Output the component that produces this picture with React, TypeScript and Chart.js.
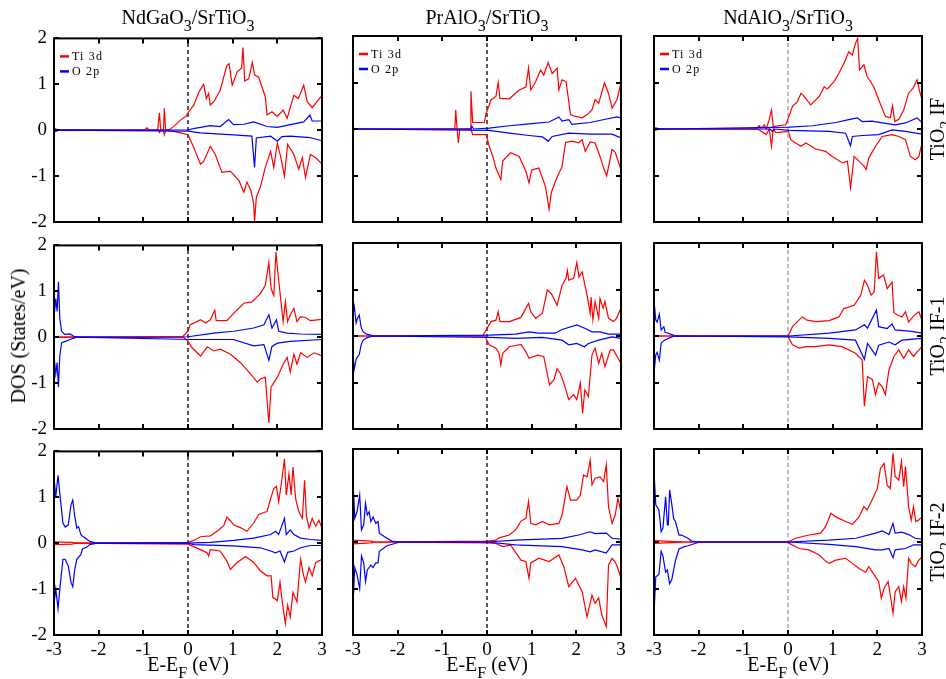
import React, { useEffect, useRef } from "react";
import { Chart, registerables } from "chart.js";

Chart.register(...registerables);

type Pt = [number, number];

// ---------- axis / label data ----------
const X_TICKS = [-3, -2, -1, 0, 1, 2, 3];
const Y_TICKS = [-2, -1, 0, 1, 2];
const COLUMN_TITLES = ["NdGaO_3/SrTiO_3", "PrAlO_3/SrTiO_3", "NdAlO_3/SrTiO_3"];
const ROW_LABELS = ["TiO_2 IF", "TiO_2 IF-1", "TiO_2 IF-2"];
const SERIES_NAMES = ["Ti 3d", "O 2p"];
const SERIES_COLORS = ["#ff0000", "#0000ff"];
const X_TITLE = "E-E_F (eV)";
const Y_TITLE = "DOS (States/eV)";

// ---------- NdGaO3 / TiO2 IF ----------
const NGO_IF_TI_UP: Pt[] = [[-3,0],[-0.98,0],[-0.92,0.05],[-0.86,0],[-0.68,0],[-0.64,0.38],[-0.61,0],[-0.55,0],[-0.53,0.48],[-0.5,0],[-0.4,0.02],[-0.3,0.1],[-0.17,0.22],[-0.05,0.3],[0,0.38],[0.13,0.55],[0.25,0.84],[0.35,1.0],[0.41,0.69],[0.46,0.8],[0.5,0.55],[0.58,0.62],[0.72,0.87],[0.87,1.41],[0.92,1.45],[0.99,0.98],[1.1,1.27],[1.2,1.35],[1.23,1.8],[1.27,1.07],[1.36,1.12],[1.44,1.48],[1.49,1.2],[1.58,1.16],[1.73,0.73],[1.77,0.33],[1.88,0.4],[2.0,0.3],[2.13,0.44],[2.22,0.26],[2.37,0.76],[2.47,0.69],[2.59,0.98],[2.67,0.62],[2.78,0.49],[3.0,0.76]];
const NGO_IF_TI_DN: Pt[] = [[-3,0],[-0.66,0],[-0.64,-0.05],[-0.6,0],[-0.55,0],[-0.53,-0.1],[-0.5,0],[-0.3,-0.03],[-0.17,-0.06],[0,-0.1],[0.13,-0.38],[0.28,-0.74],[0.35,-0.68],[0.5,-0.35],[0.61,-0.53],[0.76,-0.92],[0.95,-0.89],[1.14,-1.1],[1.25,-1.35],[1.32,-1.13],[1.41,-1.32],[1.47,-1.6],[1.49,-2.0],[1.53,-1.46],[1.62,-1.24],[1.73,-0.81],[1.85,-0.46],[1.92,-0.81],[2.0,-0.28],[2.07,-0.56],[2.16,-1.0],[2.23,-0.31],[2.37,-0.53],[2.48,-0.85],[2.56,-0.6],[2.63,-1.03],[2.74,-0.53],[2.86,-0.6],[3.0,-0.74]];
const NGO_IF_O_UP: Pt[] = [[-3,0.04],[-2.95,0.02],[-2.9,0],[0,0.01],[0.15,0.04],[0.28,0.06],[0.5,0.1],[0.72,0.08],[0.91,0.23],[1.02,0.12],[1.25,0.13],[1.47,0.18],[1.77,0.08],[2.0,0.06],[2.29,0.12],[2.59,0.18],[2.73,0.33],[2.78,0.2],[3.0,0.2]];
const NGO_IF_O_DN: Pt[] = [[-3,-0.04],[-2.95,-0.02],[-2.9,0],[0,-0.02],[0.28,-0.06],[1.02,-0.1],[1.43,-0.13],[1.49,-0.81],[1.53,-0.17],[1.85,-0.13],[2.0,-0.24],[2.1,-0.14],[2.29,-0.13],[2.73,-0.16],[3.0,-0.23]];

// ---------- PrAlO3 / TiO2 IF ----------
const PAO_IF_TI_UP: Pt[] = [[-3,0],[-0.72,0],[-0.7,0.41],[-0.67,0],[-0.38,0],[-0.36,0.81],[-0.32,0.14],[-0.06,0.14],[-0.02,0.34],[0.01,0.41],[0.09,0.63],[0.2,0.7],[0.25,1.0],[0.29,0.66],[0.5,0.65],[0.72,0.84],[0.87,0.9],[0.93,1.31],[0.98,0.84],[1.09,1.02],[1.2,1.27],[1.27,1.16],[1.37,1.43],[1.46,1.19],[1.57,1.31],[1.61,0.84],[1.68,1.06],[1.77,1.02],[1.87,0.31],[1.98,0.27],[2.13,0.24],[2.24,0.31],[2.35,0.41],[2.42,0.63],[2.5,0.55],[2.63,0.99],[2.72,0.77],[2.8,0.45],[2.91,0.63],[3.0,0.99]];
const PAO_IF_TI_DN: Pt[] = [[-3,0],[-0.67,0],[-0.64,-0.3],[-0.61,0],[-0.36,0],[-0.32,-0.12],[-0.02,-0.12],[0.05,-0.37],[0.13,-0.59],[0.2,-0.84],[0.31,-1.09],[0.35,-0.69],[0.53,-0.51],[0.72,-0.59],[0.87,-0.91],[0.94,-1.16],[1.0,-0.88],[1.16,-0.84],[1.31,-1.24],[1.39,-1.73],[1.44,-1.37],[1.53,-1.13],[1.61,-0.95],[1.68,-0.81],[1.76,-0.29],[1.9,-0.26],[2.05,-0.3],[2.13,-0.23],[2.2,-0.48],[2.31,-0.28],[2.42,-0.3],[2.53,-0.59],[2.61,-0.84],[2.68,-1.01],[2.8,-0.44],[2.87,-0.5],[3.0,-0.87]];
const PAO_IF_O_UP: Pt[] = [[-3,0.02],[-2.9,0],[-0.36,0],[-0.34,0.06],[-0.3,0],[0.05,0.02],[0.5,0.07],[0.94,0.11],[1.39,0.15],[1.61,0.26],[1.68,0.17],[1.83,0.2],[1.9,0.1],[2.31,0.14],[2.65,0.21],[2.91,0.26],[3.0,0.24]];
const PAO_IF_O_DN: Pt[] = [[-3,-0.02],[-2.9,0],[0.05,-0.03],[0.5,-0.09],[0.94,-0.14],[1.24,-0.17],[1.37,-0.26],[1.46,-0.16],[1.83,-0.09],[2.31,-0.11],[2.8,-0.11],[3.0,-0.19]];

// ---------- NdAlO3 / TiO2 IF ----------
const NAO_IF_TI_UP: Pt[] = [[-3,0],[-0.72,0],[-0.64,0.07],[-0.6,0.02],[-0.53,0.09],[-0.49,0],[-0.42,0.2],[-0.37,0.41],[-0.33,0.05],[-0.23,0.07],[-0.05,0.09],[0.01,0.24],[0.1,0.49],[0.21,0.59],[0.29,0.77],[0.36,0.7],[0.51,0.52],[0.7,0.7],[0.81,0.91],[0.88,0.86],[1.03,1.02],[1.14,1.2],[1.25,1.41],[1.36,1.66],[1.44,1.59],[1.51,1.84],[1.56,1.95],[1.6,1.27],[1.7,1.38],[1.77,1.13],[1.92,0.91],[2.03,0.63],[2.18,0.27],[2.29,0.24],[2.34,0.5],[2.39,0.16],[2.48,0.21],[2.59,0.41],[2.7,0.77],[2.8,0.88],[2.89,1.06],[2.94,0.84],[3.0,0.63]];
const NAO_IF_TI_DN: Pt[] = [[-3,0],[-0.68,0],[-0.6,-0.05],[-0.49,-0.12],[-0.42,0],[-0.37,-0.37],[-0.33,0],[-0.27,-0.08],[0.01,-0.05],[0.06,-0.23],[0.17,-0.3],[0.29,-0.37],[0.4,-0.3],[0.62,-0.43],[0.84,-0.48],[0.99,-0.59],[1.22,-0.73],[1.33,-0.69],[1.4,-1.26],[1.48,-0.59],[1.59,-0.69],[1.7,-0.8],[1.75,-0.87],[1.81,-0.62],[1.96,-0.37],[2.11,-0.16],[2.33,-0.12],[2.48,-0.16],[2.63,-0.23],[2.74,-0.59],[2.85,-0.66],[2.93,-0.59],[3.0,-0.3]];
const NAO_IF_O_UP: Pt[] = [[-3,0.03],[-2.9,0.01],[-2.7,0],[0.03,0.04],[0.55,0.07],[1.07,0.14],[1.36,0.2],[1.55,0.24],[1.66,0.16],[1.88,0.17],[2.11,0.13],[2.4,0.09],[2.63,0.13],[2.89,0.24],[3.0,0.14]];
const NAO_IF_O_DN: Pt[] = [[-3,-0.03],[-2.9,-0.01],[-2.7,0],[-0.4,0],[-0.35,-0.05],[-0.3,0],[0.03,-0.03],[0.92,-0.05],[1.29,-0.09],[1.4,-0.36],[1.44,-0.16],[1.66,-0.14],[2.03,-0.12],[2.33,-0.02],[2.63,-0.05],[3.0,-0.11]];

// ---------- NdGaO3 / TiO2 IF-1 ----------
const NGO_IF1_TI_UP: Pt[] = [[-3,0],[-0.13,0],[0,0.13],[0.05,0.27],[0.2,0.34],[0.28,0.38],[0.39,0.31],[0.5,0.38],[0.6,0.59],[0.63,0.36],[0.87,0.36],[1.02,0.52],[1.25,0.74],[1.43,0.77],[1.62,0.95],[1.73,1.13],[1.81,1.63],[1.86,1.06],[1.92,0.91],[1.97,1.86],[2.01,1.43],[2.07,0.88],[2.13,0.34],[2.18,0.77],[2.23,0.34],[2.29,0.49],[2.37,0.63],[2.44,0.34],[2.52,0.45],[2.63,0.43],[2.74,0.36],[3.0,0.39]];
const NGO_IF1_TI_DN: Pt[] = [[-3,0],[-0.1,0],[0,-0.09],[0.09,-0.23],[0.28,-0.41],[0.43,-0.21],[0.58,-0.3],[0.72,-0.26],[0.95,-0.37],[1.17,-0.55],[1.4,-0.8],[1.55,-0.98],[1.62,-0.91],[1.73,-0.87],[1.81,-1.87],[1.86,-1.09],[2.0,-0.87],[2.13,-0.59],[2.22,-0.44],[2.29,-0.76],[2.37,-0.37],[2.44,-0.59],[2.52,-0.34],[2.67,-0.44],[2.82,-0.34],[3.0,-0.41]];
const NGO_IF1_O_UP: Pt[] = [[-3,0.41],[-2.96,0.84],[-2.93,0.56],[-2.9,1.21],[-2.87,0.41],[-2.83,0.13],[-2.76,0.06],[-2.64,0.07],[-2.56,0.02],[-2.49,0],[0,0.01],[0.58,0.09],[1.02,0.13],[1.47,0.2],[1.7,0.27],[1.81,0.49],[1.88,0.2],[1.98,0.38],[2.03,0.13],[2.22,0.09],[2.52,0.07],[3.0,0.06]];
const NGO_IF1_O_DN: Pt[] = [[-3,-0.4],[-2.96,-0.8],[-2.93,-0.55],[-2.9,-1.09],[-2.87,-0.4],[-2.83,-0.12],[-2.72,-0.08],[-2.64,-0.05],[-2.49,0],[0.1,-0.05],[1.02,-0.05],[1.47,-0.19],[1.7,-0.16],[1.81,-0.5],[1.88,-0.2],[2.0,-0.13],[2.29,-0.09],[3.0,-0.05]];

// ---------- PrAlO3 / TiO2 IF-1 ----------
const PAO_IF1_TI_UP: Pt[] = [[-3,0],[-0.1,0],[-0.02,0.13],[0.09,0.31],[0.2,0.34],[0.25,0.52],[0.29,0.31],[0.5,0.31],[0.76,0.4],[0.93,0.7],[0.98,0.52],[1.09,0.38],[1.24,0.49],[1.35,0.99],[1.44,0.91],[1.57,0.66],[1.68,1.09],[1.77,1.24],[1.8,1.41],[1.83,1.2],[1.94,1.24],[2.01,1.58],[2.06,1.27],[2.13,1.38],[2.24,0.88],[2.31,0.49],[2.33,0.84],[2.37,0.35],[2.42,0.74],[2.5,0.38],[2.53,0.81],[2.6,0.6],[2.64,0.74],[2.72,0.38],[2.83,0.31],[2.9,0.38],[3.0,0.61]];
const PAO_IF1_TI_DN: Pt[] = [[-3,0],[-0.05,0],[0.05,-0.19],[0.2,-0.26],[0.27,-0.37],[0.31,-0.62],[0.35,-0.37],[0.5,-0.23],[0.76,-0.18],[0.87,-0.34],[0.94,-0.48],[1.13,-0.41],[1.27,-0.44],[1.4,-1.05],[1.5,-0.94],[1.57,-0.7],[1.64,-0.8],[1.72,-1.01],[1.83,-1.37],[1.94,-1.26],[2.01,-1.37],[2.09,-1.01],[2.14,-1.66],[2.19,-1.16],[2.27,-1.3],[2.35,-0.41],[2.42,-0.26],[2.5,-0.59],[2.57,-0.37],[2.64,-0.66],[2.76,-0.3],[2.83,-0.3],[3.0,-0.59]];
const PAO_IF1_O_UP: Pt[] = [[-3,0.45],[-2.97,0.63],[-2.93,0.28],[-2.9,0.38],[-2.86,0.45],[-2.82,0.2],[-2.78,0.1],[-2.7,0.04],[-2.6,0.02],[-2.55,0],[0.05,0.02],[0.64,0.04],[0.94,0.09],[1.16,0.06],[1.53,0.06],[1.68,0.14],[2.01,0.24],[2.2,0.16],[2.35,0.09],[2.53,0.09],[2.72,0.04],[3.0,0.04]];
const PAO_IF1_O_DN: Pt[] = [[-3,-0.45],[-2.97,-0.7],[-2.93,-0.5],[-2.9,-0.45],[-2.86,-0.4],[-2.82,-0.2],[-2.78,-0.1],[-2.7,-0.04],[-2.55,0],[0.05,-0.03],[0.64,-0.05],[1.24,-0.03],[1.68,-0.09],[1.83,-0.19],[2.01,-0.16],[2.18,-0.23],[2.27,-0.16],[2.5,-0.09],[2.8,-0.02],[3.0,-0.05]];

// ---------- NdAlO3 / TiO2 IF-1 ----------
const NAO_IF1_TI_UP: Pt[] = [[-3,0],[0,0],[0.1,0.2],[0.21,0.31],[0.32,0.41],[0.43,0.34],[0.62,0.31],[0.92,0.33],[1.14,0.41],[1.25,0.59],[1.48,0.66],[1.63,0.88],[1.71,1.2],[1.78,1.09],[1.86,0.88],[1.93,0.95],[1.98,1.81],[2.03,1.24],[2.14,1.31],[2.22,1.02],[2.33,1.16],[2.37,0.5],[2.45,0.45],[2.55,0.41],[2.63,0.52],[2.7,0.3],[2.83,0.45],[2.93,0.52],[3.0,0.34]];
const NAO_IF1_TI_DN: Pt[] = [[-3,0],[0,0],[0.02,-0.05],[0.1,-0.19],[0.25,-0.26],[0.4,-0.23],[0.62,-0.23],[0.92,-0.19],[1.21,-0.23],[1.51,-0.37],[1.66,-0.51],[1.71,-1.51],[1.78,-0.87],[1.89,-0.94],[1.96,-1.26],[2.03,-1.01],[2.11,-1.09],[2.18,-1.26],[2.26,-0.73],[2.37,-0.44],[2.48,-0.3],[2.59,-0.48],[2.7,-0.3],[2.81,-0.44],[2.89,-0.34],[3.0,-0.23]];
const NAO_IF1_O_UP: Pt[] = [[-3,0.77],[-2.96,0.34],[-2.93,0.3],[-2.88,0.47],[-2.84,0.13],[-2.78,0.2],[-2.75,0.08],[-2.68,0.06],[-2.57,0.02],[-2.5,0],[0.02,0],[0.92,0.06],[1.51,0.13],[1.71,0.24],[1.78,0.17],[1.98,0.56],[2.03,0.2],[2.22,0.16],[2.33,0.26],[2.4,0.13],[2.77,0.1],[3.0,0.06]];
const NAO_IF1_O_DN: Pt[] = [[-3,-0.8],[-2.96,-0.4],[-2.93,-0.35],[-2.88,-0.52],[-2.84,-0.15],[-2.78,-0.1],[-2.68,-0.05],[-2.57,-0.01],[-2.5,0],[0.02,-0.02],[0.92,-0.05],[1.51,-0.09],[1.71,-0.5],[1.78,-0.16],[1.96,-0.41],[2.03,-0.2],[2.26,-0.13],[2.4,-0.19],[2.55,-0.09],[3.0,-0.05]];

// ---------- NdGaO3 / TiO2 IF-2 ----------
const NGO_IF2_TI_UP: Pt[] = [[-3,0.03],[-2.6,0.02],[-2.5,0],[0,0.02],[0.13,0.06],[0.28,0.14],[0.5,0.16],[0.65,0.26],[0.8,0.38],[0.87,0.57],[0.95,0.49],[1.02,0.4],[1.17,0.34],[1.32,0.26],[1.47,0.44],[1.58,0.62],[1.7,0.67],[1.77,0.69],[1.85,0.97],[1.92,1.19],[1.98,1.24],[2.03,0.9],[2.09,1.3],[2.16,1.84],[2.2,1.05],[2.26,1.51],[2.31,1.05],[2.35,1.66],[2.41,0.97],[2.48,0.69],[2.56,0.54],[2.61,1.37],[2.65,0.6],[2.71,0.33],[2.78,0.54],[2.86,0.37],[2.93,0.5],[3.0,0.33]];
const NGO_IF2_TI_DN: Pt[] = [[-3,-0.03],[-2.6,-0.02],[-2.5,0],[0,-0.02],[0.28,-0.14],[0.43,-0.21],[0.46,-0.28],[0.5,-0.14],[0.72,-0.17],[0.87,-0.39],[0.95,-0.57],[1.1,-0.42],[1.29,-0.29],[1.47,-0.42],[1.62,-0.6],[1.77,-0.71],[1.86,-0.71],[1.9,-1.18],[2.0,-1.25],[2.06,-0.85],[2.11,-1.28],[2.18,-1.75],[2.23,-1.35],[2.29,-1.61],[2.35,-1.07],[2.44,-1.28],[2.52,-0.35],[2.59,-0.71],[2.63,-0.85],[2.71,-0.53],[2.78,-0.71],[2.86,-0.42],[3.0,-0.35]];
const NGO_IF2_O_UP: Pt[] = [[-3,1.44],[-2.96,1.01],[-2.91,1.48],[-2.87,1.08],[-2.8,0.44],[-2.75,0.35],[-2.68,0.4],[-2.62,0.83],[-2.58,0.94],[-2.54,0.62],[-2.49,0.33],[-2.45,0.36],[-2.4,0.19],[-2.36,0.15],[-2.27,0.09],[-2.2,0.04],[-2.04,0],[0,0],[0.5,0.02],[1.02,0.06],[1.47,0.11],[1.85,0.19],[1.96,0.26],[2.03,0.19],[2.16,0.54],[2.2,0.19],[2.29,0.29],[2.37,0.19],[2.52,0.11],[2.74,0.08],[3.0,0.06]];
const NGO_IF2_O_DN: Pt[] = [[-3,-1.33],[-2.96,-1.0],[-2.91,-1.43],[-2.87,-1.0],[-2.8,-0.35],[-2.75,-0.35],[-2.68,-0.5],[-2.62,-0.85],[-2.58,-0.95],[-2.54,-0.6],[-2.49,-0.35],[-2.4,-0.25],[-2.36,-0.12],[-2.27,-0.09],[-2.2,-0.03],[-2.04,0],[0,0],[0.13,-0.03],[1.02,-0.06],[1.62,-0.1],[1.85,-0.17],[1.96,-0.21],[2.06,-0.17],[2.16,-0.41],[2.23,-0.2],[2.37,-0.17],[2.52,-0.1],[2.74,-0.05],[3.0,-0.05]];

// ---------- PrAlO3 / TiO2 IF-2 ----------
const PAO_IF2_TI_UP: Pt[] = [[-3,0.04],[-2.6,0.02],[-2.5,0],[0,0.02],[0.2,0.04],[0.27,0.09],[0.5,0.15],[0.64,0.26],[0.76,0.45],[0.87,0.51],[0.93,0.87],[0.98,0.4],[1.09,0.37],[1.24,0.44],[1.39,0.37],[1.61,0.4],[1.68,0.58],[1.79,1.19],[1.87,0.9],[2.01,0.9],[2.09,1.01],[2.16,1.44],[2.24,1.4],[2.31,1.76],[2.35,1.23],[2.42,1.37],[2.53,1.4],[2.61,1.3],[2.67,1.66],[2.72,0.76],[2.8,0.4],[2.87,0.58],[2.93,0.94],[3.0,0.65]];
const PAO_IF2_TI_DN: Pt[] = [[-3,-0.04],[-2.6,-0.02],[-2.5,0],[0,-0.02],[0.2,-0.03],[0.35,-0.1],[0.53,-0.07],[0.76,-0.39],[0.87,-0.42],[0.94,-0.78],[0.98,-0.45],[1.16,-0.35],[1.39,-0.42],[1.61,-0.28],[1.72,-0.53],[1.83,-0.96],[1.98,-0.78],[2.13,-1.07],[2.24,-1.61],[2.35,-1.14],[2.42,-1.32],[2.5,-1.2],[2.57,-1.57],[2.67,-1.82],[2.72,-0.5],[2.8,-0.35],[2.87,-0.43],[2.93,-0.57],[3.0,-0.78]];
const PAO_IF2_O_UP: Pt[] = [[-3,1.33],[-2.96,0.51],[-2.91,0.65],[-2.85,1.01],[-2.81,0.26],[-2.76,0.37],[-2.72,0.83],[-2.68,0.58],[-2.64,0.65],[-2.6,0.44],[-2.55,0.54],[-2.49,0.4],[-2.44,0.44],[-2.41,0.19],[-2.35,0.15],[-2.24,0.08],[-2.13,0.02],[-1.95,0],[0,0],[0.64,0.04],[1.24,0.06],[1.68,0.08],[2.05,0.15],[2.31,0.22],[2.42,0.18],[2.67,0.19],[2.8,0.08],[3.0,0.06]];
const PAO_IF2_O_DN: Pt[] = [[-3,-1.35],[-2.96,-0.55],[-2.91,-0.7],[-2.85,-1.0],[-2.81,-0.3],[-2.76,-0.45],[-2.72,-0.85],[-2.68,-0.6],[-2.6,-0.5],[-2.55,-0.55],[-2.49,-0.45],[-2.44,-0.45],[-2.41,-0.2],[-2.24,-0.08],[-1.95,0],[0,0],[0.64,-0.06],[1.68,-0.1],[2.13,-0.17],[2.31,-0.21],[2.42,-0.17],[2.67,-0.24],[2.8,-0.06],[3.0,-0.06]];

// ---------- NdAlO3 / TiO2 IF-2 ----------
const NAO_IF2_TI_UP: Pt[] = [[-3,0.03],[-2.5,0.01],[-2.3,0],[0,0],[0.17,0.08],[0.47,0.15],[0.73,0.19],[0.84,0.33],[0.96,0.62],[1.07,0.54],[1.29,0.44],[1.44,0.38],[1.59,0.54],[1.7,0.76],[1.77,0.69],[1.88,0.9],[2.0,1.15],[2.07,1.58],[2.15,1.69],[2.22,1.22],[2.29,1.15],[2.35,1.91],[2.4,1.41],[2.48,1.33],[2.54,1.73],[2.59,1.19],[2.63,1.62],[2.7,0.76],[2.76,0.47],[2.81,0.76],[2.86,0.44],[2.92,0.47],[3.0,0.54]];
const NAO_IF2_TI_DN: Pt[] = [[-3,-0.03],[-2.5,-0.01],[-2.3,0],[0,0],[0.03,-0.03],[0.25,-0.14],[0.47,-0.17],[0.7,-0.28],[0.84,-0.41],[0.92,-0.46],[1.07,-0.39],[1.29,-0.35],[1.44,-0.46],[1.59,-0.57],[1.74,-0.65],[1.81,-0.53],[1.96,-0.75],[2.03,-0.85],[2.09,-1.21],[2.15,-1.0],[2.24,-0.85],[2.29,-1.14],[2.35,-1.53],[2.4,-1.07],[2.48,-0.96],[2.54,-1.28],[2.59,-0.96],[2.64,-1.21],[2.7,-0.35],[2.76,-0.46],[2.85,-0.53],[2.92,-0.4],[3.0,-0.32]];
const NAO_IF2_O_UP: Pt[] = [[-3,1.51],[-2.96,0.8],[-2.89,0.69],[-2.84,0.22],[-2.8,0.3],[-2.74,0.97],[-2.7,0.37],[-2.68,0.37],[-2.65,1.12],[-2.6,0.8],[-2.56,0.5],[-2.52,0.44],[-2.44,0.15],[-2.38,0.15],[-2.32,0.12],[-2.24,0.08],[-2.16,0.02],[-1.98,0],[0,0],[0.92,0.04],[1.52,0.08],[1.96,0.19],[2.11,0.24],[2.26,0.16],[2.35,0.4],[2.4,0.19],[2.55,0.21],[2.7,0.16],[2.85,0.08],[3.0,0.06]];
const NAO_IF2_O_DN: Pt[] = [[-3,-1.55],[-2.96,-0.75],[-2.89,-0.7],[-2.84,-0.2],[-2.8,-0.3],[-2.74,-0.65],[-2.7,-0.6],[-2.65,-0.9],[-2.6,-0.8],[-2.56,-0.6],[-2.52,-0.4],[-2.44,-0.15],[-2.32,-0.1],[-2.24,-0.08],[-1.98,0],[0,0],[0.92,-0.05],[1.52,-0.1],[1.96,-0.17],[2.11,-0.17],[2.26,-0.14],[2.35,-0.34],[2.4,-0.17],[2.63,-0.14],[2.81,-0.06],[3.0,-0.06]];

type Curves = { tiUp: Pt[]; tiDn: Pt[]; oUp: Pt[]; oDn: Pt[] };

const PANELS: Curves[][] = [
  [
    { tiUp: NGO_IF_TI_UP, tiDn: NGO_IF_TI_DN, oUp: NGO_IF_O_UP, oDn: NGO_IF_O_DN },
    { tiUp: PAO_IF_TI_UP, tiDn: PAO_IF_TI_DN, oUp: PAO_IF_O_UP, oDn: PAO_IF_O_DN },
    { tiUp: NAO_IF_TI_UP, tiDn: NAO_IF_TI_DN, oUp: NAO_IF_O_UP, oDn: NAO_IF_O_DN },
  ],
  [
    { tiUp: NGO_IF1_TI_UP, tiDn: NGO_IF1_TI_DN, oUp: NGO_IF1_O_UP, oDn: NGO_IF1_O_DN },
    { tiUp: PAO_IF1_TI_UP, tiDn: PAO_IF1_TI_DN, oUp: PAO_IF1_O_UP, oDn: PAO_IF1_O_DN },
    { tiUp: NAO_IF1_TI_UP, tiDn: NAO_IF1_TI_DN, oUp: NAO_IF1_O_UP, oDn: NAO_IF1_O_DN },
  ],
  [
    { tiUp: NGO_IF2_TI_UP, tiDn: NGO_IF2_TI_DN, oUp: NGO_IF2_O_UP, oDn: NGO_IF2_O_DN },
    { tiUp: PAO_IF2_TI_UP, tiDn: PAO_IF2_TI_DN, oUp: PAO_IF2_O_UP, oDn: PAO_IF2_O_DN },
    { tiUp: NAO_IF2_TI_UP, tiDn: NAO_IF2_TI_DN, oUp: NAO_IF2_O_UP, oDn: NAO_IF2_O_DN },
  ],
];

// ---------- layout ----------
const COL_LEFT = [54, 353, 654];
const ROW_TOP = [36, 243, 449];
const PLOT_W = 268;
const PLOT_H = 186;
const PAD_L = 50;
const PAD_R = 14;
const PAD_T = 16;
const PAD_B = 32;
const FONT = '"Liberation Serif", "Times New Roman", Times, serif';

function withSub(s: string, subSize: number, subDrop: number) {
  const parts = s.split(/_(.)/);
  return parts.map((p, i) =>
    i % 2 === 1 ? (
      <span key={i} style={{ fontSize: subSize, verticalAlign: -subDrop, lineHeight: 0 }}>{p}</span>
    ) : (
      <span key={i}>{p}</span>
    )
  );
}

const framePlugin = {
  id: "frameTicks",
  afterDatasetsDraw(chart: any) {
    const { ctx, chartArea: a, scales } = chart;
    ctx.save();
    ctx.strokeStyle = "#000";
    ctx.lineWidth = 2;
    const L = 5;
    ctx.beginPath();
    for (const v of X_TICKS) {
      const px = Math.round(scales.x.getPixelForValue(v));
      ctx.moveTo(px, a.bottom);
      ctx.lineTo(px, a.bottom - L);
      ctx.moveTo(px, a.top);
      ctx.lineTo(px, a.top + L);
    }
    for (const v of Y_TICKS) {
      const py = Math.round(scales.y.getPixelForValue(v));
      ctx.moveTo(a.left, py);
      ctx.lineTo(a.left + L, py);
      ctx.moveTo(a.right, py);
      ctx.lineTo(a.right - L, py);
    }
    ctx.stroke();
    ctx.strokeRect(a.left, a.top, a.right - a.left, a.bottom - a.top);
    ctx.restore();
  },
};

const insetLegendPlugin = {
  id: "insetLegend",
  afterDraw(chart: any) {
    const { ctx, chartArea: a } = chart;
    ctx.save();
    ctx.font = `12px ${FONT}`;
    try { (ctx as any).letterSpacing = "1.2px"; } catch (e) { /* ignore */ }
    ctx.textBaseline = "middle";
    ctx.textAlign = "left";
    SERIES_NAMES.forEach((name, i) => {
      const y = a.top + 18 + i * 15;
      ctx.strokeStyle = SERIES_COLORS[i];
      ctx.lineWidth = 2.5;
      ctx.beginPath();
      ctx.moveTo(a.left + 6, y);
      ctx.lineTo(a.left + 15, y);
      ctx.stroke();
      ctx.fillStyle = "#000";
      ctx.fillText(name, a.left + 18, y + 0.5);
    });
    ctx.restore();
  },
};

function Panel({ row, col }: { row: number; col: number }) {
  const ref = useRef<HTMLCanvasElement>(null);
  useEffect(() => {
    const c = PANELS[row][col];
    const toXY = (a: Pt[]) => a.map(([x, y]) => ({ x, y }));
    const line = (d: Pt[], color: string) => ({
      data: toXY(d),
      borderColor: color,
      backgroundColor: color,
      borderWidth: 1.2,
      pointRadius: 0,
      tension: 0,
      fill: false,
    });
    const tickFont = { family: FONT, size: 19 };
    const chart = new Chart(ref.current as HTMLCanvasElement, {
      type: "line",
      data: {
        datasets: [
          { label: SERIES_NAMES[1], ...line(c.oUp, SERIES_COLORS[1]) },
          { label: SERIES_NAMES[1] + " (down)", ...line(c.oDn, SERIES_COLORS[1]) },
          { label: SERIES_NAMES[0], ...line(c.tiUp, SERIES_COLORS[0]) },
          { label: SERIES_NAMES[0] + " (down)", ...line(c.tiDn, SERIES_COLORS[0]) },
          {
            label: "E_F",
            data: [{ x: 0, y: -2 }, { x: 0, y: 2 }],
            borderColor: col === 2 ? "#9a9a9a" : "#000000",
            borderWidth: 1.3,
            borderDash: [4, 3],
            pointRadius: 0,
          },
        ] as any,
      },
      options: {
        animation: false,
        responsive: false,
        maintainAspectRatio: false,
        devicePixelRatio: 1,
        events: [],
        layout: { padding: { left: 0, top: PAD_T, right: PAD_R, bottom: 0 } },
        plugins: { legend: { display: false }, tooltip: { enabled: false }, title: { display: false } },
        scales: {
          x: {
            type: "linear",
            min: -3,
            max: 3,
            afterFit: (s: any) => { s.height = PAD_B; },
            afterBuildTicks: (s: any) => { s.ticks = X_TICKS.map((v) => ({ value: v })); },
            grid: { display: false, drawTicks: false },
            border: { display: false },
            ticks: {
              display: row === 2,
              padding: 4,
              font: tickFont,
              color: "#000",
              maxRotation: 0,
              autoSkip: false,
              callback: (v: any) => String(v),
            },
          },
          y: {
            type: "linear",
            min: -2,
            max: 2,
            afterFit: (s: any) => { s.width = PAD_L; },
            afterBuildTicks: (s: any) => { s.ticks = Y_TICKS.map((v) => ({ value: v })); },
            grid: { display: false, drawTicks: false },
            border: { display: false },
            ticks: {
              display: col === 0,
              padding: 7,
              font: tickFont,
              color: "#000",
              autoSkip: false,
              callback: (v: any) => String(v),
            },
          },
        },
      } as any,
      plugins: row === 0 ? [framePlugin, insetLegendPlugin] : [framePlugin],
    });
    return () => chart.destroy();
  }, [row, col]);

  const w = PAD_L + PLOT_W + PAD_R;
  const h = PAD_T + PLOT_H + PAD_B;
  return (
    <canvas
      ref={ref}
      width={w}
      height={h}
      style={{ position: "absolute", left: COL_LEFT[col] - PAD_L, top: ROW_TOP[row] - PAD_T, width: w, height: h }}
    />
  );
}

export default function App() {
  const textBase: React.CSSProperties = {
    position: "absolute",
    fontFamily: FONT,
    fontSize: 20,
    lineHeight: "22px",
    color: "#000",
    whiteSpace: "nowrap",
  };
  return (
    <div style={{ position: "absolute", left: 0, top: 0, width: 946, height: 679, background: "#fff", overflow: "hidden" }}>
      {PANELS.map((r, ri) => r.map((_, ci) => <Panel key={`${ri}-${ci}`} row={ri} col={ci} />))}
      {COLUMN_TITLES.map((t, ci) => (
        <div key={"t" + ci} style={{ ...textBase, left: COL_LEFT[ci] + PLOT_W / 2, top: 6, transform: "translateX(-50%)" }}>
          {withSub(t, 16, 7)}
        </div>
      ))}
      {COLUMN_TITLES.map((_, ci) => (
        <div key={"x" + ci} style={{ ...textBase, left: COL_LEFT[ci] + PLOT_W / 2, top: 653, transform: "translateX(-50%)" }}>
          {withSub(X_TITLE, 16, 7)}
        </div>
      ))}
      {ROW_LABELS.map((t, ri) => (
        <div key={"r" + ri} style={{ ...textBase, left: 937, top: ROW_TOP[ri] + PLOT_H / 2, transform: "translate(-50%, -50%) rotate(-90deg)" }}>
          {withSub(t, 16, 7)}
        </div>
      ))}
      <div style={{ ...textBase, left: 18, top: 336, transform: "translate(-50%, -50%) rotate(-90deg)" }}>
        {Y_TITLE}
      </div>
    </div>
  );
}
